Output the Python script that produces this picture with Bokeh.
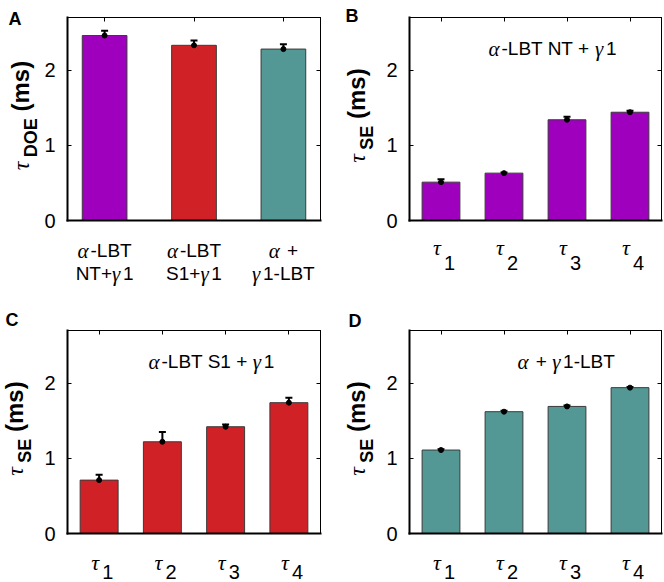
import math
from bokeh.plotting import figure
from bokeh.models import Range1d, FixedTicker, LinearAxis, Label, Whisker, TeeHead, ColumnDataSource
from bokeh.layouts import column, row
from bokeh.embed import file_html
from bokeh.resources import INLINE

# ---------------- data ----------------
doe_positions = [1, 2, 3]
doe_tick_lines = [
    [[("α", "g"), ("-LBT", "s")], [("NT+", "s"), ("γ", "g"), ("1", "s")]],
    [[("α", "g"), ("-LBT", "s")], [("S1+", "s"), ("γ", "g"), ("1", "s")]],
    [[("α", "g"), (" +", "s")], [("γ", "g"), ("1-LBT", "s")]],
]
doe_vals = [2.46, 2.33, 2.28]
doe_errs = [0.065, 0.065, 0.065]

se_positions = [1, 2, 3, 4]
se_tick_subs = ["1", "2", "3", "4"]
se_nt_vals = [0.51, 0.63, 1.34, 1.44]
se_nt_errs = [0.04, 0.01, 0.04, 0.02]
se_s1_vals = [0.71, 1.22, 1.42, 1.74]
se_s1_errs = [0.07, 0.13, 0.03, 0.065]
se_g1_vals = [1.11, 1.62, 1.69, 1.94]
se_g1_errs = [0.012, 0.012, 0.012, 0.01]

y_ticks = [0, 1, 2]
y_max = 2.7

title_nt = [("α", "g"), ("-LBT NT + ", "s"), ("γ", "g"), ("1", "s")]
title_s1 = [("α", "g"), ("-LBT S1 + ", "s"), ("γ", "g"), ("1", "s")]
title_g1 = [("α", "g"), (" + ", "s"), ("γ", "g"), ("1-LBT", "s")]

PURPLE = "#9E00BE"
RED = "#D02226"
TEAL = "#539895"

# ---------------- text helpers ----------------
SANS = "Liberation Sans"
SERIF = "Liberation Serif"
AW = {"-": .333, "L": .556, "B": .667, "T": .611, "N": .722, "S": .667, "+": .584,
      " ": .278, "1": .556, "2": .556, "3": .556, "4": .556, "E": .667, "D": .722,
      "O": .778, "(": .333, ")": .333, "m": .889, "s": .556}
GW = {"α": .62, "γ": .52, "τ": .5}

FONTS = {
    "s": (SANS, "normal", 19),
    "g": (SERIF, "italic", 21),
}


def width(text, kind):
    font, style, size = FONTS[kind]
    if kind == "g":
        return sum(GW.get(c, .55) for c in text) * size
    return sum(AW.get(c, .6) for c in text) * size


def add_text(p, x, y, text, font, style, size, xo, yo, align="left", angle=0.0):
    p.add_layout(Label(x=x, y=y, text=text, text_font=font, text_font_style=style,
                       text_font_size=f"{size}px", x_offset=xo, y_offset=yo,
                       text_align=align, text_baseline="alphabetic", angle=angle,
                       text_color="black"))


def add_seq(p, x, y, pieces, xo, yo):
    cur = 0.0
    for t, kind in pieces:
        font, style, size = FONTS[kind]
        lead = len(t) - len(t.lstrip(" "))
        shown = t.strip(" ")
        add_text(p, x, y, shown, font, style, size, xo + cur + width(" " * lead, kind), yo)
        cur += width(t, kind)


def seq_width(pieces):
    return sum(width(t, k) for t, k in pieces)


def add_ylabel(p, x0, sub, main_xo, center_yo):
    # rotated label: tau (serif italic) + bold subscript + " (ms)" bold, centred at center_yo
    tau_size, sub_size, main_size = 24, 18, 24
    tau_len = 0.5 * tau_size + 1
    sub_len = sum(AW[c] for c in sub) * sub_size
    gap = 0.278 * main_size
    ms_len = sum(AW[c] for c in "(ms)") * main_size
    yo = center_yo - (tau_len + sub_len + gap + ms_len) / 2
    add_text(p, x0, 0, "τ", SERIF, "italic", tau_size, main_xo, yo, angle=math.pi / 2)
    yo += tau_len
    add_text(p, x0, 0, sub, SANS, "bold", sub_size, main_xo + 10, yo, angle=math.pi / 2)
    yo += sub_len + gap
    add_text(p, x0, 0, "(ms)", SANS, "bold", main_size, main_xo, yo, angle=math.pi / 2)


def style_axis(ax, ticks, width_px, labels=False):
    ax.ticker = FixedTicker(ticks=ticks)
    ax.major_tick_in = 4
    ax.major_tick_out = 0
    ax.major_tick_line_width = 1
    ax.minor_tick_line_color = None
    ax.axis_line_width = width_px
    ax.axis_line_cap = "square"
    if labels:
        ax.major_label_text_font = SANS
        ax.major_label_text_font_size = "20px"
        ax.major_label_text_color = "black"
        ax.major_label_standoff = 12
    else:
        ax.major_label_text_color = None
        ax.major_label_standoff = 0


# ---------------- figure factory ----------------
# geometry: figure size and the drawn axes box inside it (pixels)
def make_panel(positions, vals, errs, colors, xbox, bar_w, fig_w, fig_h, left, top, bw, bh):
    xppu = bw / (xbox[1] - xbox[0])
    yppu = bh / y_max
    xr = Range1d(xbox[0] - left / xppu, xbox[1] + (fig_w - left - bw) / xppu)
    yr = Range1d(-(fig_h - top - bh) / yppu, y_max + top / yppu)
    p = figure(x_range=xr, y_range=yr, frame_width=fig_w, frame_height=fig_h,
               min_border=0, output_backend="svg", toolbar_location=None)
    p.grid.visible = False
    p.outline_line_color = None
    p.background_fill_color = "white"
    p.border_fill_color = "white"

    ya = p.yaxis[0]
    style_axis(ya, y_ticks, 2, labels=True)
    ya.fixed_location = xbox[0]
    ya.bounds = (0, y_max)

    xa = p.xaxis[0]
    style_axis(xa, positions, 2)
    xa.major_tick_line_color = None
    xa.fixed_location = 0
    xa.bounds = xbox

    right = LinearAxis()
    style_axis(right, y_ticks, 1)
    right.fixed_location = xbox[1]
    right.bounds = (0, y_max)
    p.add_layout(right, "right")

    topax = LinearAxis()
    style_axis(topax, positions, 1)
    topax.fixed_location = y_max
    topax.bounds = xbox
    p.add_layout(topax, "above")

    src = ColumnDataSource(dict(x=positions, top=vals, color=colors,
                                upper=[v + e for v, e in zip(vals, errs)],
                                lower=[v - e for v, e in zip(vals, errs)]))
    p.vbar(x="x", top="top", width=bar_w, source=src, fill_color="color",
           line_color="#3a3a3a", line_width=1)
    p.add_layout(Whisker(base="x", upper="upper", lower="lower", source=src,
                         line_width=2, line_color="black",
                         upper_head=TeeHead(size=7, line_width=2, line_color="black"),
                         lower_head=TeeHead(size=7, line_width=2, line_color="black")))
    p.scatter(x="x", y="top", source=src, size=5, color="black")
    return p


def add_tau_ticks(p, positions, subs, tau_below, sub_below):
    for pos, s in zip(positions, subs):
        tw = GW["τ"] * 22
        add_text(p, pos, 0, "τ", SERIF, "italic", 22, 3 - tw, -tau_below)
        add_text(p, pos, 0, s, SANS, "normal", 20, 3, -sub_below)


xbA = (0.585, 3.415)
xbS = (0.5, 4.5)

# Panel A  (page x 0-340, y 0-290; box 67-320 x 17-220)
pA = make_panel(doe_positions, doe_vals, doe_errs, [PURPLE, RED, TEAL], xbA, 0.5,
                340, 290, 67, 17, 253, 203)
for pos, lines in zip(doe_positions, doe_tick_lines):
    for li, pieces in enumerate(lines):
        w = seq_width(pieces)
        add_seq(pA, pos, 0, pieces, -w / 2, -30 - 23 * li)
add_ylabel(pA, xbA[0], "DOE", -47, 105)
add_text(pA, xbA[0], y_max, "A", SANS, "bold", 18, -59, -1)

# Panel B  (page x 340-663; box 409-661)
pB = make_panel(se_positions, se_nt_vals, se_nt_errs, [PURPLE] * 4, xbS, 0.6,
                323, 290, 69, 17, 252, 203)
add_tau_ticks(pB, se_positions, se_tick_subs, 27, 42)
add_ylabel(pB, xbS[0], "SE", -53, 105)
add_seq(pB, xbS[0], y_max, title_nt, 79, -31)
add_text(pB, xbS[0], y_max, "B", SANS, "bold", 18, -64, 2)

# Panel C  (page y 290-581; box 330-533)
pC = make_panel(se_positions, se_s1_vals, se_s1_errs, [RED] * 4, xbS, 0.6,
                340, 291, 67, 40, 253, 203)
add_tau_ticks(pC, se_positions, se_tick_subs, 29, 38)
add_ylabel(pC, xbS[0], "SE", -53, 105)
add_seq(pC, xbS[0], y_max, title_s1, 81, -31)
add_text(pC, xbS[0], y_max, "C", SANS, "bold", 18, -62, 11)

# Panel D
pD = make_panel(se_positions, se_g1_vals, se_g1_errs, [TEAL] * 4, xbS, 0.6,
                323, 291, 69, 40, 252, 203)
add_tau_ticks(pD, se_positions, se_tick_subs, 29, 38)
add_ylabel(pD, xbS[0], "SE", -53, 105)
add_seq(pD, xbS[0], y_max, title_g1, 108, -31)
add_text(pD, xbS[0], y_max, "D", SANS, "bold", 18, -61, 10)

layout = column(row(pA, pB), row(pC, pD))
open("out.html", "w").write(file_html(layout, INLINE))
